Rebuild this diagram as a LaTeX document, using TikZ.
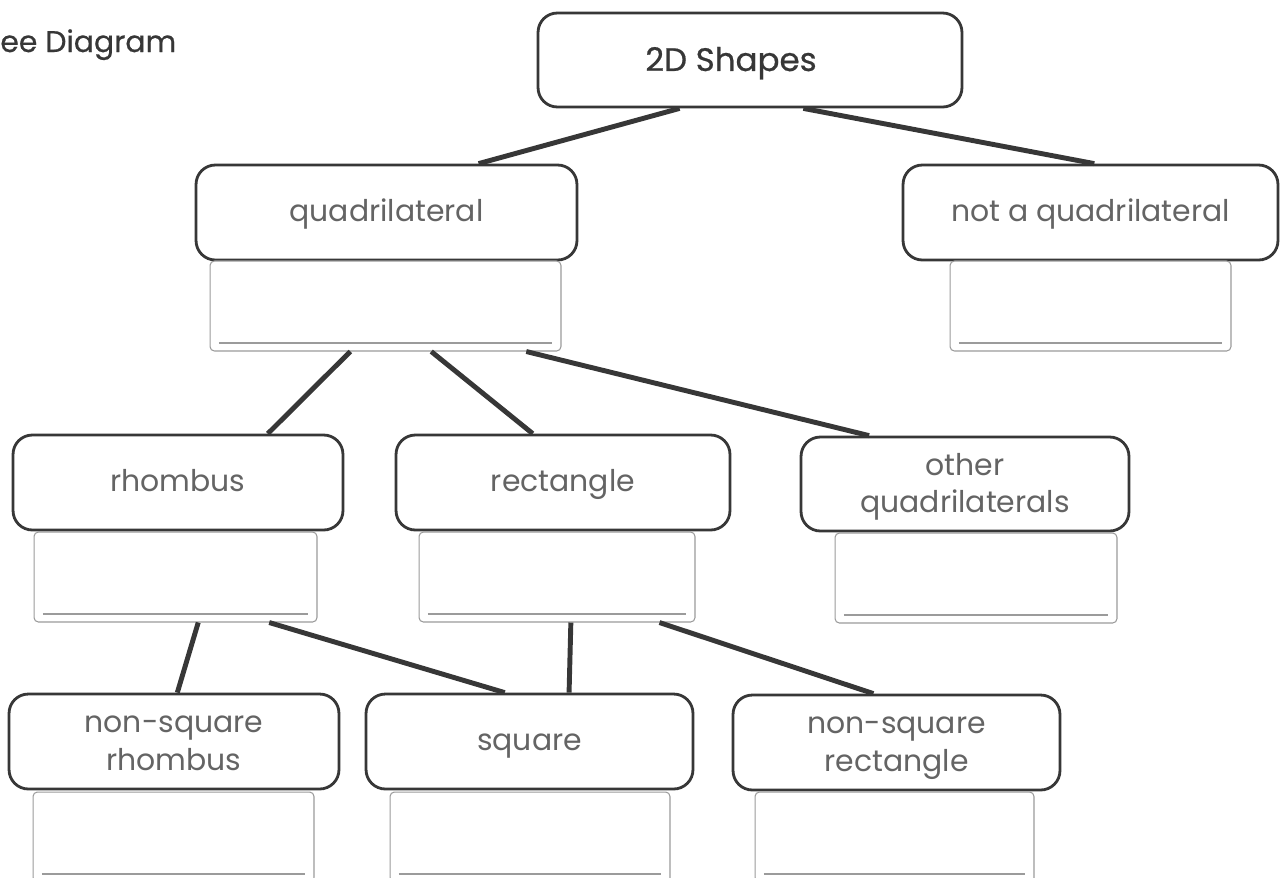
\documentclass[tikz,border=0pt]{standalone}
\usepackage{fontspec}
\setmainfont{Poppins}
\newfontfamily\medfont[FakeBold=0.6]{Poppins}
\usetikzlibrary{calc}
\definecolor{inkdark}{RGB}{55,55,55}
\definecolor{labeltext}{RGB}{100,100,100}
\definecolor{boxgray}{RGB}{155,155,155}

\begin{document}
\begin{tikzpicture}[x=0.02cm, y=-0.02cm,
    catbox/.style={draw=inkdark, line width=1.6pt, rounded corners=11pt, fill=white,
        text=labeltext, align=center, inner sep=0pt, minimum height=1.9cm,
        text height=1.25em, text depth=0.22em,
        font=\fontsize{17}{21.5}\selectfont},
    twoline/.style={text height=3.5em, text depth=0.22em},
    ansbox/.style={draw=boxgray, line width=0.6pt, rounded corners=2.5pt, fill=white,
        inner sep=0pt, minimum height=1.8cm,
        path picture={\draw[boxgray, line width=0.7pt]
            ([xshift=5pt, yshift=4.5pt]path picture bounding box.south west) --
            ([xshift=-5pt, yshift=4.5pt]path picture bounding box.south east);}},
    branchline/.style={draw=inkdark, line width=2.8pt}]
    \clip (0,0) rectangle (1280,877);

    % Title
    \node[anchor=base west, inner sep=0pt, text=inkdark, font=\medfont\fontsize{17}{20}\selectfont] (title) at (0,52) {ee Diagram};

    % Category boxes
    \node[catbox, minimum width=8.48cm, minimum height=1.88cm, text depth=0em, text=inkdark, font=\medfont\fontsize{18.5}{22}\selectfont] (top) at (750,60) {2D Shapes\hspace*{0.76cm}};
    \node[catbox, minimum width=7.62cm] (quad) at (386.5,212.5) {quadrilateral};
    \node[catbox, minimum width=7.5cm] (notquad) at (1090.5,212.5) {not a quadrilateral};
    \node[catbox, minimum width=6.6cm] (rhombus) at (178,482.5) {rhombus};
    \node[catbox, minimum width=6.68cm] (rect) at (563,482.5) {rectangle};
    \node[catbox, twoline, minimum width=6.56cm, minimum height=1.88cm] (other) at (965,484) {other\\quadrilaterals};
    \node[catbox, twoline, minimum width=6.6cm] (nsrhombus) at (174,741.5) {non-square\\rhombus};
    \node[catbox, minimum width=6.54cm] (square) at (529.5,741.5) {square};
    \node[catbox, twoline, minimum width=6.54cm] (nsrect) at (896.5,742.5) {non-square\\rectangle};

    % Answer boxes
    \foreach \n/\x/\y/\w in {quadans/385.5/306/7.02, notquadans/1090.5/306/5.62,
        rhombusans/175.5/577/5.66, rectans/557/577/5.52, otherans/976/578/5.64,
        nsrhombusans/173.5/837/5.62, squareans/530/837/5.6, nsrectans/894.5/837/5.58} {
        \node[ansbox, minimum width=\w cm] (\n) at (\x,\y) {};
    }

    % Branches
    \foreach \a/\s/\b/\t in {top/0.335/quad/0.74, top/0.625/notquad/0.51,
        quadans/0.40/rhombus/0.77, quadans/0.63/rect/0.41, quadans/0.90/other/0.21,
        rhombusans/0.58/nsrhombus/0.51, rhombusans/0.83/square/0.425,
        rectans/0.55/square/0.62, rectans/0.87/nsrect/0.43} {
        \draw[branchline] ($(\a.south west)!\s!(\a.south east)$) -- ($(\b.north west)!\t!(\b.north east)$);
    }
\end{tikzpicture}
\end{document}
